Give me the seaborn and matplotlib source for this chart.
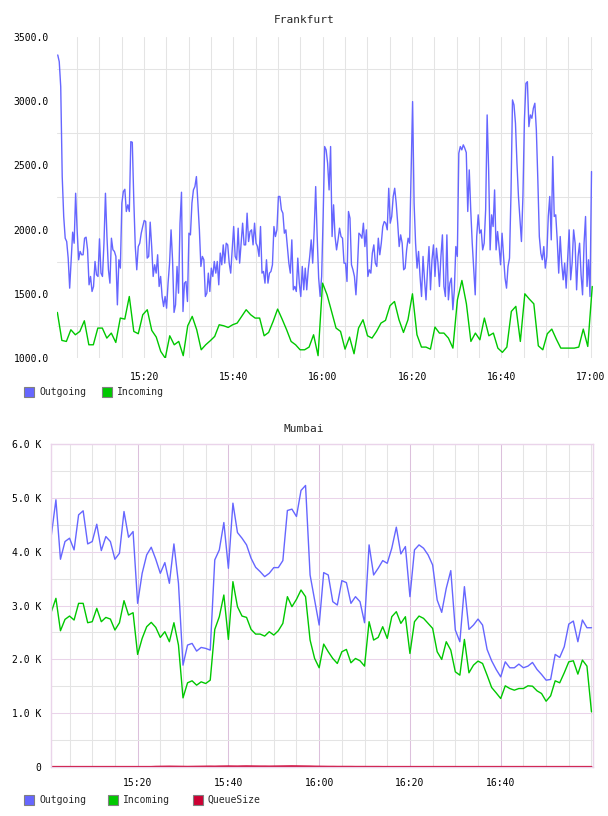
import matplotlib
matplotlib.use('Agg')
import matplotlib.pyplot as plt
import matplotlib.dates as mdates
from matplotlib.patches import Rectangle
from matplotlib.ticker import FixedLocator, MultipleLocator, FuncFormatter
import pandas as pd
import seaborn as sns

sns.set_style('white')
plt.rcParams['font.family'] = ['DejaVu Sans Mono', 'DejaVu Sans']

OUT_COLOR = '#6666ff'
IN_COLOR = '#00c800'
Q_COLOR = '#cc0033'

# ---- Frankfurt: outgoing, one sample every ~20 s (four chunks read left to right)
fra_out_1 = [3360, 3308, 3113, 2413, 2102, 1933, 1907, 1778, 1544, 1765, 1980, 1894, 2283, 1998,
             1765, 1830, 1804, 1804, 1933, 1941, 1843, 1570, 1635, 1518, 1557, 1752, 1648, 1635,
             1928, 1661, 1635, 1894, 2283, 1946, 1687, 1583, 1933, 1843, 1830, 1791, 1414, 1765,
             1700, 2206, 2296, 2314, 2141, 2193, 2141, 2685, 2680, 2232, 1868, 1687, 1868, 1894,
             1972, 2024, 2071, 2063, 1778, 1791, 2058, 1868, 1635, 1726, 1661, 1804, 1557, 1635,
             1479, 1401, 1479, 1388, 1583, 1739, 1998, 1765, 1355, 1414, 1713, 1505, 2050, 2291,
             1362, 1583, 1596, 1440, 1972, 1959, 2206, 2309, 2335]
fra_out_2 = [2413, 2206, 1998, 1713, 1791, 1765, 1479, 1505, 1661, 1518, 1700, 1635, 1752, 1661,
             1752, 1570, 1817, 1726, 1881, 1739, 1894, 1881, 1739, 1661, 1843, 2024, 1791, 1765,
             2011, 1739, 1894, 2050, 1881, 1881, 2128, 1907, 1985, 1998, 1881, 2050, 1894, 1868,
             1791, 2024, 1661, 1674, 1583, 1765, 1583, 1661, 1674, 1726, 2024, 1946, 1998, 2258,
             2258, 2154, 2128, 1972, 1998, 1868, 1739, 1661, 1920, 1531, 1557, 1518, 1778, 1583,
             1479, 1713, 1531, 1700, 1531, 1687, 1791, 1920, 1739, 1998, 2335, 1946, 1622, 1479,
             1635, 2102, 2647, 2621, 2517, 2309, 2647]
fra_out_3 = [1946, 2193, 1946, 1842, 1920, 2011, 1946, 1933, 1739, 1739, 1596, 2141, 2089, 1726,
             1687, 1635, 1492, 1700, 1972, 1959, 1933, 2050, 1868, 1998, 1635, 1687, 1661, 1817,
             1881, 1739, 1713, 1933, 1804, 1894, 2024, 2063, 2050, 1998, 2322, 2050, 2102, 2258,
             2322, 2206, 2050, 1868, 1959, 1894, 1687, 1700, 1842, 1933, 1894, 2465, 2997, 2206,
             1894, 1700, 1830, 1635, 1479, 1791, 1609, 1453, 1687, 1868, 1531, 1765, 1881, 1635,
             1855, 1739, 1557, 1791, 1959, 1557, 1479, 1959, 1453, 1583, 1622, 1376, 1531, 1868,
             1791, 2595, 2647, 2621, 2660, 2634, 2600]
fra_out_4 = [2141, 2465, 2154, 1894, 1687, 1492, 1946, 2115, 1972, 1998, 1842, 1894, 2154, 2893,
             2465, 1842, 2115, 2024, 2309, 1842, 1985, 1868, 1726, 1972, 1791, 1622, 1544, 1713,
             1778, 2283, 3010, 2971, 2828, 2517, 2258, 2076, 1907, 2258, 2854, 3139, 3152, 2802,
             2893, 2867, 2945, 2984, 2776, 2387, 1946, 1816, 1765, 1868, 1700, 1791, 2102, 2258,
             1920, 2569, 2102, 2115, 1920, 1661, 1946, 1739, 1609, 1739, 1544, 1765, 1998, 1609,
             1739, 1998, 1894, 1531, 1791, 1894, 1648, 1492, 1894, 2102, 1557, 1765, 1479, 2452]

# ---- Frankfurt: incoming, one sample per minute
fra_in_a = [1355, 1137, 1129, 1220, 1181, 1207, 1290, 1103, 1103, 1233, 1233, 1155, 1194, 1121,
            1311, 1303, 1479, 1207, 1189, 1337, 1376, 1215, 1163, 1051, 999, 1173, 1103, 1129,
            1018, 1251, 1324, 1220, 1064, 1103, 1134, 1168, 1259, 1251, 1238, 1259, 1272, 1324,
            1376, 1337, 1311, 1311, 1173, 1199, 1285, 1381, 1303, 1220, 1129, 1103, 1064, 1064,
            1085]
fra_in_b = [1181, 1018, 1583, 1492, 1363, 1233, 1207, 1069, 1163, 1033, 1233, 1298, 1173, 1155,
            1207, 1272, 1293, 1407, 1440, 1298, 1199, 1298, 1500, 1181, 1085, 1085, 1069, 1241,
            1194, 1194, 1155, 1077, 1453, 1604, 1422, 1129, 1194, 1142, 1311, 1173, 1194, 1077,
            1044, 1085, 1363, 1402, 1129, 1500, 1459, 1422, 1095, 1064, 1189, 1225, 1147, 1077,
            1077, 1077, 1077, 1085, 1225, 1090, 1557]

# ---- Mumbai, one sample per minute 15:01 .. 17:00
mum_out = [4312, 4963, 3859, 4188, 4250, 4033, 4684, 4759, 4144, 4188, 4510, 4020, 4281, 4188,
           3859, 3971, 4746, 4268, 4374, 3040, 3598, 3940, 4082, 3859, 3598, 3797, 3412, 4144,
           3412, 1892, 2265,
           2296, 2153, 2221, 2203, 2171, 3847, 4033, 4541, 3691, 4901, 4355, 4250, 4126, 3878,
           3710, 3629, 3536, 3598, 3704, 3704, 3834, 4765, 4790, 4653, 5137, 5230, 3567, 3102,
           2637, 3611,
           3567, 3071, 3009, 3462, 3425, 3040, 3164, 3071, 2680, 4126, 3567, 3691, 3834, 3784,
           4064, 4455, 3958, 4095, 3164, 4033, 4126, 4064, 3940, 3753, 3102, 2873, 3319, 3648,
           2544, 2327,
           3350, 2556, 2637, 2748, 2637, 2184, 1973, 1812, 1675, 1954, 1843, 1843, 1911, 1843,
           1874, 1942, 1812, 1719, 1613, 1626, 2091, 2035, 2234, 2655, 2711, 2327, 2730, 2587,
           2587]
mum_in = [2885, 3133, 2531, 2742, 2804, 2730, 3040, 3040, 2680, 2699, 2947, 2699, 2779, 2748,
          2544, 2680, 3090, 2823, 2866, 2091, 2389, 2606, 2687, 2593, 2407, 2513, 2327, 2680,
          2265, 1284, 1564,
          1601, 1520, 1582, 1551, 1613, 2556, 2792, 3195, 2370, 3443, 2978, 2804, 2779, 2556,
          2469, 2469, 2432, 2513, 2451, 2531, 2668, 3164, 2978, 3114, 3288, 3164, 2358, 2016,
          1843, 2283,
          2141, 2016, 1923, 2141, 2184, 1936, 2016, 1973, 1874, 2699, 2358, 2407, 2606, 2389,
          2792, 2885, 2668, 2792, 2109, 2699, 2804, 2761, 2668, 2575, 2141, 1998, 2327, 2171,
          1768, 1706,
          2370, 1750, 1892, 1967, 1923, 1706, 1477, 1377, 1272, 1508, 1458, 1427, 1458, 1458,
          1508, 1501, 1415, 1365, 1222, 1322, 1601, 1564, 1750, 1954, 1973, 1725, 1986, 1874,
          1024]
mum_queue = [0, 0, 0, 0, 0, 0, 0, 0, 0, 0, 0, 0, 0, 0, 0, 0, 0, 0, 0, 0, 0, 0, 0, 3, 4, 5,
             6, 5, 4, 3, 2, 3, 4, 5, 6, 7, 6, 8, 9, 10, 9, 8, 10, 11, 10, 9, 8, 8,
             7, 8, 9, 10, 11, 12, 11, 10, 9, 8, 6, 5, 4, 3, 3, 2, 2, 2, 2, 1, 1, 1, 1, 1,
             1, 0, 0, 0, 0, 0, 0, 0, 0, 0, 0, 0, 0, 0, 0, 0, 0, 0, 0, 0, 0, 0, 0, 0, 0, 0, 0, 0,
             0, 0, 0, 0, 0, 0, 0, 0, 0, 0, 0, 0, 0, 0, 0, 0, 0, 0, 0, 0]

fra_ticks = ['15:20', '15:40', '16:00', '16:20', '16:40', '17:00']
mum_ticks = ['15:20', '15:40', '16:00', '16:20', '16:40']

DAY = '2024-01-01 '


def make_frame(values, start, end=None, freq=None):
    if freq:
        times = pd.date_range(DAY + start, periods=len(values), freq=freq)
    else:
        times = pd.date_range(DAY + start, DAY + end, periods=len(values))
    return pd.DataFrame({'time': times, 'value': values})


fra_out_df = make_frame(fra_out_1 + fra_out_2 + fra_out_3 + fra_out_4, '15:00:40', '17:00:10')
fra_in_df = make_frame(fra_in_a + fra_in_b, '15:00:35', '17:00:20')
mum_out_df = make_frame(mum_out, '15:01', freq='1min')
mum_in_df = make_frame(mum_in, '15:01', freq='1min')
mum_q_df = make_frame(mum_queue[:len(mum_out)], '15:01', freq='1min')

W, H = 608, 816
fig = plt.figure(figsize=(W / 100, H / 100), dpi=100)


def px_axes(left, top, right, bottom):
    return fig.add_axes([left / W, 1 - bottom / H, (right - left) / W, (bottom - top) / H])


GRID_GREY = '#e4e4e4'
PINK = '#ead4ea'
PINK_MAJOR = '#dcc0dc'
GRID_LW = 0.75

# ---------------- Frankfurt ----------------
ax1 = px_axes(57, 37, 593, 358)
sns.lineplot(data=fra_out_df, x='time', y='value', ax=ax1, color=OUT_COLOR, linewidth=1.0)
sns.lineplot(data=fra_in_df, x='time', y='value', ax=ax1, color=IN_COLOR, linewidth=1.0)
ax1.set_xlim(pd.Timestamp(DAY + '15:00:30'), pd.Timestamp(DAY + '17:00:30'))
ax1.set_ylim(1000, 3500)
ax1.yaxis.set_major_locator(MultipleLocator(500))
ax1.yaxis.set_minor_locator(FixedLocator([1250, 1750, 2250, 2750, 3250]))
ax1.yaxis.set_major_formatter(FuncFormatter(lambda v, p: f'{v:.1f}'))
ax1.xaxis.set_major_locator(FixedLocator([mdates.date2num(pd.Timestamp(DAY + t)) for t in fra_ticks]))
ax1.xaxis.set_minor_locator(mdates.MinuteLocator(byminute=range(0, 60, 5)))
ax1.xaxis.set_major_formatter(mdates.DateFormatter('%H:%M'))
ax1.grid(False)
ax1.grid(True, which='minor', color=GRID_GREY, linewidth=GRID_LW)
ax1.grid(True, which='major', axis='x', color=GRID_GREY, linewidth=GRID_LW)
for s in ax1.spines.values():
    s.set_visible(False)
ax1.set_axisbelow(True)
ax1.tick_params(which='both', length=0, labelsize=7, colors='#000000')
ax1.tick_params(axis='y', pad=6)
ax1.tick_params(axis='x', pad=10)
ax1.set_xlabel('')
ax1.set_ylabel('')
fig.text(304 / W, 1 - 20 / H, 'Frankfurt', ha='center', va='center', fontsize=8)

# ---------------- Mumbai ----------------
ax2 = px_axes(51, 444, 593, 767)
sns.lineplot(data=mum_out_df, x='time', y='value', ax=ax2, color=OUT_COLOR, linewidth=1.0)
sns.lineplot(data=mum_in_df, x='time', y='value', ax=ax2, color=IN_COLOR, linewidth=1.0)
sns.lineplot(data=mum_q_df, x='time', y='value', ax=ax2, color=Q_COLOR, linewidth=1.6)
ax2.set_xlim(pd.Timestamp(DAY + '15:00:55'), pd.Timestamp(DAY + '17:00:20'))
ax2.set_ylim(0, 6000)
ax2.yaxis.set_major_locator(MultipleLocator(1000))
ax2.yaxis.set_minor_locator(MultipleLocator(500))
ax2.yaxis.set_major_formatter(FuncFormatter(lambda v, p: '0' if v == 0 else f'{v / 1000:.1f} K'))
ax2.xaxis.set_major_locator(FixedLocator([mdates.date2num(pd.Timestamp(DAY + t)) for t in mum_ticks]))
ax2.xaxis.set_minor_locator(mdates.MinuteLocator(byminute=range(0, 60, 5)))
ax2.xaxis.set_major_formatter(mdates.DateFormatter('%H:%M'))
ax2.grid(False)
ax2.grid(True, which='minor', color=GRID_GREY, linewidth=GRID_LW)
ax2.grid(True, which='major', axis='y', color=PINK, linewidth=GRID_LW)
ax2.grid(True, which='major', axis='x', color=PINK_MAJOR, linewidth=GRID_LW)
for s in ax2.spines.values():
    s.set_color(PINK)
    s.set_linewidth(1.0)
ax2.set_axisbelow(True)
ax2.tick_params(which='both', length=0, labelsize=7, colors='#000000')
ax2.tick_params(axis='y', pad=7)
ax2.tick_params(axis='x', pad=8)
ax2.set_xlabel('')
ax2.set_ylabel('')
fig.text(304 / W, 1 - 429 / H, 'Mumbai', ha='center', va='center', fontsize=8)


# ---------------- legends ----------------
def legend_item(x, y, color, label):
    fig.add_artist(Rectangle((x / W, 1 - (y + 5) / H), 10 / W, 10 / H, transform=fig.transFigure,
                             facecolor=color, edgecolor='#808080', linewidth=0.8))
    fig.text((x + 15) / W, 1 - y / H, label, ha='left', va='center', fontsize=7)


legend_item(24, 392, OUT_COLOR, 'Outgoing')
legend_item(102, 392, IN_COLOR, 'Incoming')
legend_item(24, 800, OUT_COLOR, 'Outgoing')
legend_item(108, 800, IN_COLOR, 'Incoming')
legend_item(193, 800, Q_COLOR, 'QueueSize')

fig.savefig('out.png', dpi=100)
